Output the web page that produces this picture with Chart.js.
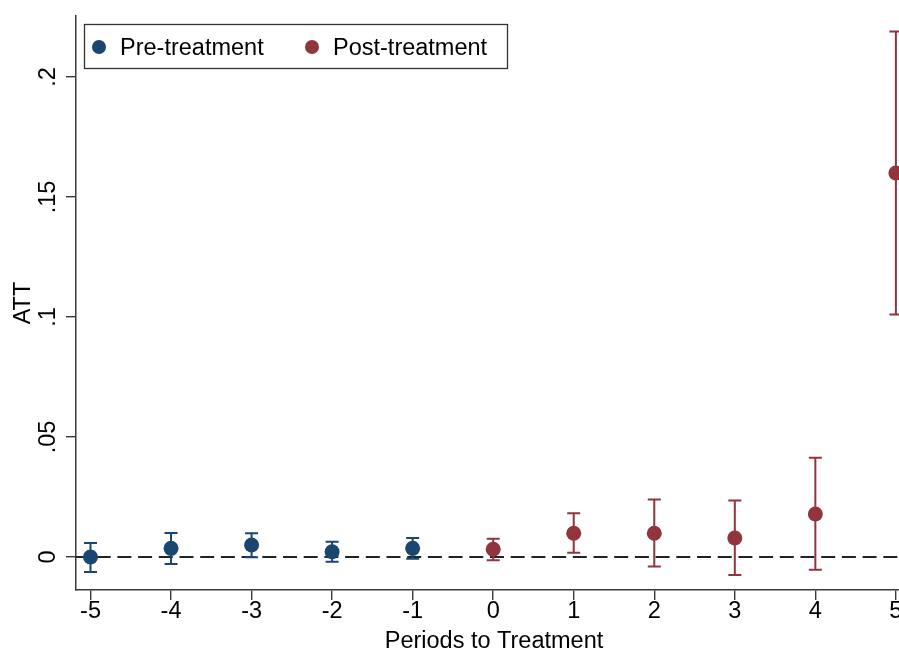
<!DOCTYPE html>
<html>
<head>
<meta charset="utf-8">
<script src="https://cdn.jsdelivr.net/npm/chart.js@4.4.1/dist/chart.umd.min.js"></script>
<style>
  html, body { margin: 0; padding: 0; overflow: hidden; background: #fff; }
  #grafico { display: block; }
</style>
</head>
<body>
<canvas id="grafico" width="912" height="652"></canvas>
<script>
// event-study estimates
var periods = [-5, -4, -3, -2, -1, 0, 1, 2, 3, 4, 5];
var att     = [0.0000, 0.0036, 0.0050, 0.0022, 0.0036, 0.0032, 0.0099, 0.0099, 0.0079, 0.0179, 0.1600];
var ciLow   = [-0.0062, -0.0029, -0.0001, -0.0020, -0.0007, -0.0014, 0.0018, -0.0040, -0.0075, -0.0053, 0.1010];
var ciHigh  = [0.0058, 0.0100, 0.0099, 0.0064, 0.0079, 0.0076, 0.0182, 0.0240, 0.0235, 0.0414, 0.2190];

var xTicks = [-5, -4, -3, -2, -1, 0, 1, 2, 3, 4, 5];
var yTicks = [0, 0.05, 0.1, 0.15, 0.2];
var yTickLabels = ["0", ".05", ".1", ".15", ".2"];

var navy = '#1a476f';
var maroon = '#90353b';
var axisColor = '#3a3a3a';
var fuente = '"Liberation Sans", Arial, sans-serif';

function puntos(pre) {
    var out = [];
    for (var i = 0; i < periods.length; i++) {
        if ((periods[i] < 0) === pre) out.push({ x: periods[i], y: att[i], lo: ciLow[i], hi: ciHigh[i] });
    }
    return out;
}

var datos = {
    datasets: [{
        label: 'Pre-treatment',
        data: puntos(true),
        backgroundColor: navy,
        borderColor: navy,
        pointRadius: 7.5,
        pointHoverRadius: 7.5,
        borderWidth: 0
    }, {
        label: 'Post-treatment',
        data: puntos(false),
        backgroundColor: maroon,
        borderColor: maroon,
        pointRadius: 7.5,
        pointHoverRadius: 7.5,
        borderWidth: 0
    }]
};

// zero line + capped spikes, drawn under the markers
var barras = {
    id: 'barras',
    beforeDatasetsDraw: function (chart) {
        var ctx = chart.ctx, xs = chart.scales.x, ys = chart.scales.y, area = chart.chartArea;
        ctx.save();
        ctx.strokeStyle = '#222';
        ctx.lineWidth = 2.2;
        ctx.setLineDash([14, 6.7]);
        var y0 = ys.getPixelForValue(0);
        ctx.beginPath();
        ctx.moveTo(area.left, y0);
        ctx.lineTo(area.right, y0);
        ctx.stroke();
        ctx.setLineDash([]);
        chart.data.datasets.forEach(function (ds) {
            ctx.strokeStyle = ds.borderColor;
            ctx.lineWidth = 2;
            ds.data.forEach(function (p) {
                var px = xs.getPixelForValue(p.x);
                var pl = ys.getPixelForValue(p.lo);
                var ph = ys.getPixelForValue(p.hi);
                ctx.beginPath();
                ctx.moveTo(px, pl); ctx.lineTo(px, ph);
                ctx.moveTo(px - 6.5, pl); ctx.lineTo(px + 6.5, pl);
                ctx.moveTo(px - 6.5, ph); ctx.lineTo(px + 6.5, ph);
                ctx.stroke();
            });
        });
        ctx.restore();
    },
    afterDraw: function (chart) {
        var ctx = chart.ctx, ys = chart.scales.y;
        ctx.save();
        // vertical y tick labels (stata style)
        ctx.fillStyle = '#000';
        ctx.font = '23.5px ' + fuente;
        ctx.textAlign = 'center';
        ctx.textBaseline = 'middle';
        yTicks.forEach(function (v, i) {
            ctx.save();
            ctx.translate(49, ys.getPixelForValue(v));
            ctx.rotate(-Math.PI / 2);
            ctx.fillText(yTickLabels[i], 0, 0);
            ctx.restore();
        });
        // legend box
        ctx.strokeStyle = '#333';
        ctx.lineWidth = 1.3;
        ctx.strokeRect(84.5, 24.5, 423, 44);
        var xm = [99, 312];
        chart.data.datasets.forEach(function (ds, i) {
            ctx.fillStyle = ds.backgroundColor;
            ctx.beginPath();
            ctx.arc(xm[i], 47, 7, 0, Math.PI * 2);
            ctx.fill();
            ctx.fillStyle = '#000';
            ctx.textAlign = 'left';
            ctx.fillText(ds.label, xm[i] + 21, 48.5);
        });
        ctx.restore();
    }
};

var opciones = {
    responsive: false,
    animation: false,
    layout: { autoPadding: false, padding: { top: 16, left: 0, right: 0, bottom: 0 } },
    plugins: {
        legend: { display: false },
        tooltip: { enabled: false }
    },
    scales: {
        x: {
            type: 'linear',
            min: -5.18,
            max: 5.2,
            afterBuildTicks: function (s) { s.ticks = xTicks.map(function (v) { return { value: v }; }); },
            afterFit: function (s) { s.height = 62; s.paddingLeft = 0; s.paddingRight = 0; },
            ticks: {
                color: '#000',
                font: { family: fuente, size: 23.5, lineHeight: 1 },
                padding: 0,
                maxRotation: 0,
                callback: function (v) { return String(v); }
            },
            grid: { drawOnChartArea: false, color: axisColor, lineWidth: 1.4, tickLength: 10 },
            border: { color: axisColor, width: 1.5 },
            title: {
                display: true,
                text: 'Periods to Treatment',
                color: '#000',
                font: { family: fuente, size: 23.5, lineHeight: 0.85 },
                padding: 0
            }
        },
        y: {
            type: 'linear',
            min: -0.01375,
            max: 0.22542,
            afterBuildTicks: function (s) { s.ticks = yTicks.map(function (v) { return { value: v }; }); },
            afterFit: function (s) { s.width = 76; s.paddingTop = 0; s.paddingBottom = 0; },
            ticks: { display: false },
            grid: { drawOnChartArea: false, color: axisColor, lineWidth: 1.4, tickLength: 10 },
            border: { color: axisColor, width: 1.5 },
            title: {
                display: true,
                text: 'ATT',
                color: '#000',
                font: { family: fuente, size: 23.5, lineHeight: 1.2 },
                padding: { top: 9, bottom: 0 }
            }
        }
    }
};

var ctx = document.getElementById('grafico');
var grafico = new Chart(ctx, {
    type: 'scatter',
    data: datos,
    options: opciones,
    plugins: [barras]
});
</script>
</body>
</html>
